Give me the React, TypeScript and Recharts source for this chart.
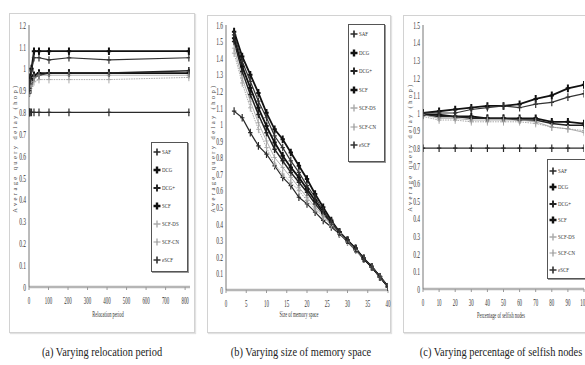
import { Legend, Line, LineChart, XAxis, YAxis } from "recharts"

const SERIF = "'Liberation Serif', 'DejaVu Serif', serif"

const seriesNames = ["SAF", "DCG", "DCG+", "SCF", "SCF-DS", "SCF-CN", "eSCF"]

// (a) relocation period
const relocationPeriods = [0.8, 1.6, 3.2, 6.4, 12.8, 25.6, 51.2, 102.4, 204.8, 409.6, 819.2]
const relocSAF = [0.8, 0.8, 0.8, 0.8, 0.8, 0.8, 0.8, 0.8, 0.8, 0.8, 0.8]
const relocDCG = [0.89, 0.9, 0.92, 0.93, 0.95, 0.97, 0.98, 0.98, 0.98, 0.98, 0.98]
const relocDCGPlus = [0.89, 0.9, 0.91, 0.92, 0.94, 0.96, 0.97, 0.98, 0.98, 0.98, 0.99]
const relocSCF = [0.9, 0.91, 0.93, 0.96, 1.0, 1.08, 1.08, 1.08, 1.08, 1.08, 1.08]
const relocSCFDS = [0.89, 0.9, 0.9, 0.91, 0.92, 0.94, 0.95, 0.95, 0.95, 0.95, 0.96]
const relocSCFCN = [0.89, 0.9, 0.91, 0.92, 0.93, 0.96, 0.97, 0.97, 0.97, 0.97, 0.97]
const relocESCF = [0.9, 0.91, 0.93, 0.95, 0.99, 1.05, 1.05, 1.04, 1.05, 1.04, 1.05]
const relocXTicks = [0, 100, 200, 300, 400, 500, 600, 700, 800]
const relocYTicks = [0, 0.1, 0.2, 0.3, 0.4, 0.5, 0.6, 0.7, 0.8, 0.9, 1, 1.1, 1.2]

// (b) size of memory space
const memorySizes = [2, 4, 6, 8, 10, 12, 14, 16, 18, 20, 22, 24, 26, 28, 30, 32, 34, 36, 38, 40]
const memSAF = [1.08, 1.04, 0.95, 0.87, 0.82, 0.75, 0.68, 0.63, 0.56, 0.52, 0.47, 0.42, 0.38, 0.34, 0.29, 0.24, 0.19, 0.14, 0.08, 0.02]
const memDCG = [1.52, 1.35, 1.22, 1.1, 0.99, 0.89, 0.81, 0.74, 0.68, 0.61, 0.54, 0.47, 0.41, 0.35, 0.3, 0.25, 0.19, 0.14, 0.08, 0.02]
const memDCGPlus = [1.5, 1.32, 1.18, 1.06, 0.95, 0.85, 0.78, 0.71, 0.65, 0.59, 0.52, 0.46, 0.4, 0.34, 0.3, 0.25, 0.19, 0.14, 0.08, 0.02]
const memSCF = [1.56, 1.41, 1.3, 1.19, 1.07, 0.97, 0.91, 0.83, 0.75, 0.67, 0.58, 0.5, 0.42, 0.35, 0.3, 0.25, 0.19, 0.14, 0.08, 0.02]
const memSCFDS = [1.43, 1.25, 1.1, 0.97, 0.86, 0.76, 0.7, 0.65, 0.6, 0.54, 0.49, 0.44, 0.39, 0.34, 0.29, 0.24, 0.19, 0.14, 0.08, 0.02]
const memSCFCN = [1.46, 1.28, 1.14, 1.01, 0.9, 0.8, 0.74, 0.68, 0.62, 0.56, 0.5, 0.45, 0.4, 0.34, 0.3, 0.24, 0.19, 0.14, 0.08, 0.02]
const memESCF = [1.54, 1.38, 1.26, 1.14, 1.04, 0.93, 0.86, 0.78, 0.71, 0.63, 0.56, 0.48, 0.41, 0.35, 0.3, 0.25, 0.19, 0.14, 0.08, 0.02]
const memXTicks = [0, 5, 10, 15, 20, 25, 30, 35, 40]
const memYTicks = [0, 0.1, 0.2, 0.3, 0.4, 0.5, 0.6, 0.7, 0.8, 0.9, 1, 1.1, 1.2, 1.3, 1.4, 1.5, 1.6]

// (c) percentage of selfish nodes
const selfishPercents = [0, 10, 20, 30, 40, 50, 60, 70, 80, 90, 100]
const selfSAF = [0.8, 0.8, 0.8, 0.8, 0.8, 0.8, 0.8, 0.8, 0.8, 0.8, 0.8]
const selfDCG = [0.99, 0.99, 0.98, 0.98, 0.97, 0.97, 0.97, 0.97, 0.95, 0.95, 0.94]
const selfDCGPlus = [0.99, 0.98, 0.98, 0.97, 0.97, 0.97, 0.96, 0.96, 0.94, 0.93, 0.93]
const selfSCF = [1.0, 1.01, 1.02, 1.03, 1.04, 1.04, 1.05, 1.08, 1.1, 1.14, 1.16]
const selfSCFDS = [0.98, 0.96, 0.96, 0.95, 0.95, 0.95, 0.95, 0.94, 0.92, 0.91, 0.9]
const selfSCFCN = [0.99, 0.97, 0.97, 0.96, 0.96, 0.96, 0.96, 0.95, 0.92, 0.91, 0.89]
const selfESCF = [1.0, 1.0, 1.0, 1.02, 1.03, 1.04, 1.03, 1.05, 1.06, 1.09, 1.11]
const selfXTicks = [0, 10, 20, 30, 40, 50, 60, 70, 80, 90, 100]
const selfYTicks = [0, 0.1, 0.2, 0.3, 0.4, 0.5, 0.6, 0.7, 0.8, 0.9, 1, 1.1, 1.2, 1.3, 1.4, 1.5]

type Style = { stroke: string; width: number; dash?: string; mark: number }

const seriesStyle: Record<string, Style> = {
  SAF: { stroke: "#2a2a2a", width: 1.2, mark: 1.2 },
  DCG: { stroke: "#111", width: 1.8, mark: 2 },
  "DCG+": { stroke: "#222", width: 1.5, mark: 1.5 },
  SCF: { stroke: "#111", width: 1.8, mark: 2 },
  "SCF-DS": { stroke: "#aaa", width: 1, dash: "1.5 1", mark: 1 },
  "SCF-CN": { stroke: "#999", width: 0.8, mark: 0.8 },
  eSCF: { stroke: "#333", width: 1.2, mark: 1.2 },
}

function buildRows(xs: number[], cols: number[][]) {
  return xs.map((x, i) => {
    const row: Record<string, number> = { x }
    seriesNames.forEach((name, k) => {
      row[name] = cols[k][i]
    })
    return row
  })
}

const relocData = buildRows(relocationPeriods, [relocSAF, relocDCG, relocDCGPlus, relocSCF, relocSCFDS, relocSCFCN, relocESCF])
const memData = buildRows(memorySizes, [memSAF, memDCG, memDCGPlus, memSCF, memSCFDS, memSCFCN, memESCF])
const selfData = buildRows(selfishPercents, [selfSAF, selfDCG, selfDCGPlus, selfSCF, selfSCFDS, selfSCFCN, selfESCF])

function PlusDot(props: any) {
  const { cx, cy, s } = props
  if (cx == null || cy == null) return null
  return (
    <path
      d={`M${cx - 2.2},${cy}H${cx + 2.2}M${cx},${cy - 3.8}V${cy + 3.8}`}
      stroke={s.stroke}
      strokeWidth={s.mark}
      fill="none"
    />
  )
}

function XTick({ x, y, payload }: any) {
  return (
    <g transform={`translate(${x},${y + 8})`}>
      <text transform="scale(0.45,1)" textAnchor="middle" dominantBaseline="central" fontSize={11} fill="#333" fontFamily={SERIF}>
        {payload.value}
      </text>
    </g>
  )
}

function YTick({ x, y, payload }: any) {
  return (
    <g transform={`translate(${x},${y})`}>
      <text transform="scale(0.5,1)" textAnchor="end" dominantBaseline="central" fontSize={11} fill="#333" fontFamily={SERIF}>
        {payload.value}
      </text>
    </g>
  )
}

function LegendBox({ rowGap, first }: { rowGap: number; first: number }) {
  return (
    <div
      style={{
        position: "relative",
        width: "100%",
        height: "100%",
        boxSizing: "border-box",
        border: "1px solid #555",
        boxShadow: "1px 1px 0 #999",
        background: "#fff",
        fontFamily: SERIF,
      }}
    >
      {seriesNames.map((name, i) => {
        const s = seriesStyle[name]
        return (
          <div key={name} style={{ position: "absolute", left: 1, top: first + i * rowGap - 5, height: 10, display: "flex", alignItems: "center" }}>
            <svg width={8} height={10}>
              <path d="M0.5,5H7.5M4,1.5V8.5" stroke={s.stroke} strokeWidth={s.mark + 0.4} fill="none" />
            </svg>
            <span style={{ fontSize: 7, color: "#333", display: "inline-block", transform: "scaleX(0.7)", transformOrigin: "left center", marginLeft: 0.5 }}>
              {name}
            </span>
          </div>
        )
      })}
    </div>
  )
}

type PanelProps = {
  left: number
  top: number
  width: number
  height: number
  data: Record<string, number>[]
  xDomain: [number, number]
  xTicks: number[]
  yDomain: [number, number]
  yTicks: number[]
  margin: { top: number; right: number; bottom: number; left: number }
  yAxisWidth: number
  legend: { left: number; top: number; width: number; height: number; gap: number; first: number }
}

function Panel(p: PanelProps) {
  return (
    <div style={{ position: "absolute", left: p.left, top: p.top }}>
      <LineChart width={p.width} height={p.height} data={p.data} margin={p.margin}>
        <XAxis
          type="number"
          dataKey="x"
          domain={p.xDomain}
          ticks={p.xTicks}
          interval={0}
          height={30}
          tickSize={3}
          tickMargin={2}
          tick={<XTick />}
          axisLine={{ stroke: "#b5b5b5", strokeWidth: 2.5 }}
          tickLine={{ stroke: "#999" }}
          allowDataOverflow
        />
        <YAxis
          type="number"
          domain={p.yDomain}
          ticks={p.yTicks}
          interval={0}
          width={p.yAxisWidth}
          tickSize={0}
          tickMargin={3}
          tick={<YTick />}
          axisLine={{ stroke: "#777", strokeWidth: 1 }}
          tickLine={false}
        />
        <Legend
          layout="vertical"
          align="center"
          verticalAlign="middle"
          wrapperStyle={{ left: p.legend.left, top: p.legend.top, width: p.legend.width, height: p.legend.height }}
          content={() => <LegendBox rowGap={p.legend.gap} first={p.legend.first} />}
        />
        {seriesNames.map((name) => {
          const s = seriesStyle[name]
          return (
            <Line
              key={name}
              dataKey={name}
              name={name}
              type="linear"
              stroke={s.stroke}
              strokeWidth={s.width}
              strokeDasharray={s.dash}
              dot={(dp: any) => <PlusDot key={`${name}-${dp.index}`} cx={dp.cx} cy={dp.cy} s={s} />}
              isAnimationActive={false}
            />
          )
        })}
      </LineChart>
    </div>
  )
}

const frameStyle = (left: number, top: number, width: number, height: number) => ({
  position: "absolute" as const,
  left,
  top,
  width,
  height,
  boxSizing: "border-box" as const,
  border: "1px solid #d2d2d2",
  boxShadow: "1px 1px 1px #e2e2e2",
  background: "#fff",
})

function YTitle({ x, y }: { x: number; y: number }) {
  return (
    <div
      style={{
        position: "absolute",
        left: x,
        top: y,
        transform: "translate(-50%, -50%) rotate(-90deg)",
        whiteSpace: "nowrap",
        fontFamily: SERIF,
        fontSize: 6.5,
        letterSpacing: 2.4,
        color: "#444",
      }}
    >
      Average query delay (hop)
    </div>
  )
}

function XTitle({ x, y, text }: { x: number; y: number; text: string }) {
  return (
    <div
      style={{
        position: "absolute",
        left: x,
        top: y,
        transform: "translate(-50%, -50%) scaleX(0.55)",
        whiteSpace: "nowrap",
        fontFamily: SERIF,
        fontSize: 8,
        color: "#333",
      }}
    >
      {text}
    </div>
  )
}

function Caption({ x, y, text }: { x: number; y: number; text: string }) {
  return (
    <div
      style={{
        position: "absolute",
        left: x,
        top: y,
        transform: "translate(-50%, -50%) scaleX(0.8)",
        whiteSpace: "nowrap",
        fontFamily: SERIF,
        fontSize: 13,
        color: "#222",
      }}
    >
      {text}
    </div>
  )
}

export default function App() {
  return (
    <div style={{ position: "relative", width: 585, height: 365, overflow: "hidden", background: "#fff" }}>
      <style>{`body{margin:0}`}</style>
      <div style={frameStyle(9, 13, 186, 320)} />
      <div style={frameStyle(207, 15, 184, 318)} />
      <div style={frameStyle(403, 15, 190, 318)} />

      <Panel
        left={9}
        top={13}
        width={186}
        height={320}
        data={relocData}
        xDomain={[0, 825]}
        xTicks={relocXTicks}
        yDomain={[0, 1.2]}
        yTicks={relocYTicks}
        margin={{ top: 12, right: 5, bottom: 16, left: 0 }}
        yAxisWidth={20}
        legend={{ left: 142, top: 129, width: 37, height: 130, gap: 18, first: 9 }}
      />
      <Panel
        left={207}
        top={15}
        width={184}
        height={318}
        data={memData}
        xDomain={[0, 40]}
        xTicks={memXTicks}
        yDomain={[0, 1.6]}
        yTicks={memYTicks}
        margin={{ top: 10, right: 3, bottom: 13, left: 0 }}
        yAxisWidth={19}
        legend={{ left: 141, top: 9, width: 37, height: 138, gap: 18.5, first: 9 }}
      />
      <Panel
        left={403}
        top={15}
        width={190}
        height={318}
        data={selfData}
        xDomain={[0, 100]}
        xTicks={selfXTicks}
        yDomain={[0, 1.5]}
        yTicks={selfYTicks}
        margin={{ top: 10, right: 9, bottom: 14, left: 0 }}
        yAxisWidth={20}
        legend={{ left: 144, top: 144, width: 50, height: 120, gap: 16.5, first: 10.5 }}
      />

      <YTitle x={14} y={148} />
      <YTitle x={212} y={148} />
      <YTitle x={409} y={147} />

      <XTitle x={108} y={314} text="Relocation period" />
      <XTitle x={299} y={314} text="Size of memory space" />
      <XTitle x={501} y={315} text="Percentage of selfish nodes" />

      <Caption x={102} y={352} text="(a) Varying relocation period" />
      <Caption x={301} y={352} text="(b) Varying size of memory space" />
      <Caption x={501} y={352} text="(c) Varying percentage of selfish nodes" />
    </div>
  )
}
